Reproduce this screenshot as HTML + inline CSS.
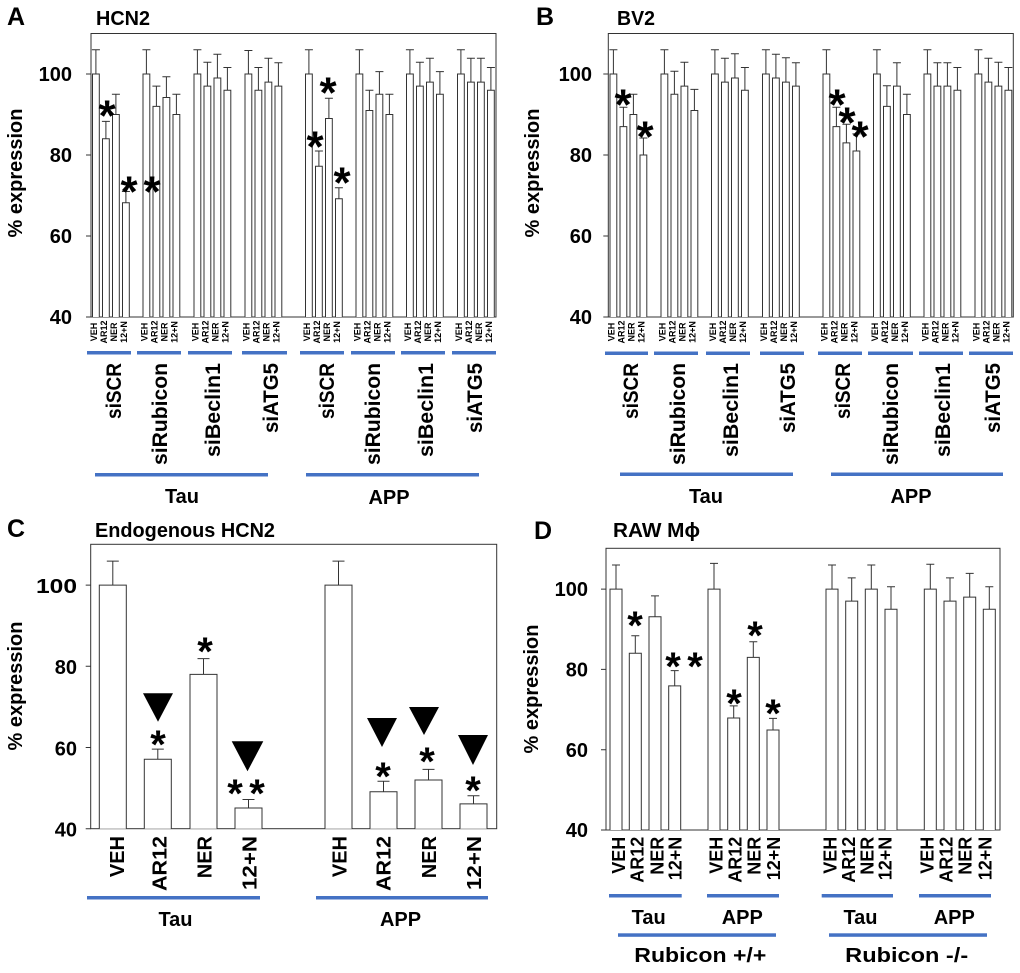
<!DOCTYPE html>
<html><head><meta charset="utf-8"><style>
html,body{margin:0;padding:0;background:#fff;}
svg{display:block;}
.t{font-family:"Liberation Sans",Arial,sans-serif;font-weight:bold;fill:#000;}
.b{fill:#fff;stroke:#333;stroke-width:1;}
.e{fill:none;stroke:#333;stroke-width:1;}
.bx{fill:none;stroke:#333;stroke-width:1;}
.bl{fill:#4472c4;}
.sl{font-family:"Liberation Sans",Arial,sans-serif;font-weight:bold;font-size:9px;text-anchor:middle;}
.st{font-family:"Liberation Sans",Arial,sans-serif;font-weight:bold;font-size:44px;text-anchor:middle;}
.st2{font-family:"Liberation Sans",Arial,sans-serif;font-weight:bold;font-size:40px;text-anchor:middle;}
.tk{font-family:"Liberation Sans",Arial,sans-serif;font-weight:bold;font-size:20px;text-anchor:end;}
.yl{font-family:"Liberation Sans",Arial,sans-serif;font-weight:bold;font-size:20px;text-anchor:middle;}
.big{font-family:"Liberation Sans",Arial,sans-serif;font-weight:bold;font-size:21px;text-anchor:end;}
.lab{font-family:"Liberation Sans",Arial,sans-serif;font-weight:bold;font-size:20px;text-anchor:middle;}
.cl{font-family:"Liberation Sans",Arial,sans-serif;font-weight:bold;font-size:20px;text-anchor:end;}
.dl{font-family:"Liberation Sans",Arial,sans-serif;font-weight:bold;font-size:18px;text-anchor:end;}
</style></head><body>
<svg width="1020" height="973" viewBox="0 0 1020 973" xmlns="http://www.w3.org/2000/svg">
<rect x="0" y="0" width="1020" height="973" fill="#fff"/>

<!-- ================= PANEL A ================= -->
<text class="t" x="7" y="25" font-size="25">A</text>
<text class="t" x="96" y="25" font-size="20" textLength="54" lengthAdjust="spacingAndGlyphs">HCN2</text>
<rect class="bx" x="91" y="33.5" width="405" height="283.5"/>
<path class="e" d="M86 74H91M86 155H91M86 236H91M86 317H91"/>
<text class="tk" x="72" y="81">100</text>
<text class="tk" x="72" y="162">80</text>
<text class="tk" x="72" y="243">60</text>
<text class="tk" x="72" y="324">40</text>
<text class="yl" transform="translate(22,173) rotate(-90)">% expression</text>

<g transform="translate(92.5,0)">
<path class="b" d="M0 317V74H6.8V317M10 317V138.8H16.8V317M20 317V114.5H26.8V317M30 317V202.8H36.8V317"/>
<path class="e" d="M3.4 74V49.7M-0.6 49.7H7.4M13.4 138.8V121.4M9.4 121.4H17.4M23.4 114.5V94.25M19.4 94.25H27.4M33.4 202.8V191.45M29.4 191.45H37.4"/>
<text class="sl" transform="translate(4.4,332) rotate(-90)">VEH</text><text class="sl" transform="translate(14.4,332) rotate(-90)">AR12</text><text class="sl" transform="translate(24.4,332) rotate(-90)">NER</text><text class="sl" transform="translate(34.4,332) rotate(-90)">12+N</text>
</g>
<g transform="translate(143,0)">
<path class="b" d="M0 317V74H6.8V317M10 317V106.4H16.8V317M20 317V97.5H26.8V317M30 317V114.5H36.8V317"/>
<path class="e" d="M3.4 74V49.7M-0.6 49.7H7.4M13.4 106.4V86.15M9.4 86.15H17.4M23.4 97.5V76.8M19.4 76.8H27.4M33.4 114.5V94.25M29.4 94.25H37.4"/>
<text class="sl" transform="translate(4.4,332) rotate(-90)">VEH</text><text class="sl" transform="translate(14.4,332) rotate(-90)">AR12</text><text class="sl" transform="translate(24.4,332) rotate(-90)">NER</text><text class="sl" transform="translate(34.4,332) rotate(-90)">12+N</text>
</g>
<g transform="translate(194,0)">
<path class="b" d="M0 317V74H6.8V317M10 317V86.15H16.8V317M20 317V78.05H26.8V317M30 317V90.2H36.8V317"/>
<path class="e" d="M3.4 74V49.7M-0.6 49.7H7.4M13.4 86.15V62.3M9.4 62.3H17.4M23.4 78.05V54.2M19.4 54.2H27.4M33.4 90.2V67.5M29.4 67.5H37.4"/>
<text class="sl" transform="translate(4.4,332) rotate(-90)">VEH</text><text class="sl" transform="translate(14.4,332) rotate(-90)">AR12</text><text class="sl" transform="translate(24.4,332) rotate(-90)">NER</text><text class="sl" transform="translate(34.4,332) rotate(-90)">12+N</text>
</g>
<g transform="translate(245,0)">
<path class="b" d="M0 317V74H6.8V317M10 317V90.2H16.8V317M20 317V82.1H26.8V317M30 317V86.15H36.8V317"/>
<path class="e" d="M3.4 74V50.5M-0.6 50.5H7.4M13.4 90.2V67.5M9.4 67.5H17.4M23.4 82.1V58.2M19.4 58.2H27.4M33.4 86.15V62.7M29.4 62.7H37.4"/>
<text class="sl" transform="translate(4.4,332) rotate(-90)">VEH</text><text class="sl" transform="translate(14.4,332) rotate(-90)">AR12</text><text class="sl" transform="translate(24.4,332) rotate(-90)">NER</text><text class="sl" transform="translate(34.4,332) rotate(-90)">12+N</text>
</g>
<g transform="translate(305.5,0)">
<path class="b" d="M0 317V74H6.8V317M10 317V166.3H16.8V317M20 317V118.55H26.8V317M30 317V198.7H36.8V317"/>
<path class="e" d="M3.4 74V49.7M-0.6 49.7H7.4M13.4 166.3V150.95M9.4 150.95H17.4M23.4 118.55V98.3M19.4 98.3H27.4M33.4 198.7V187.8M29.4 187.8H37.4"/>
<text class="sl" transform="translate(4.4,332) rotate(-90)">VEH</text><text class="sl" transform="translate(14.4,332) rotate(-90)">AR12</text><text class="sl" transform="translate(24.4,332) rotate(-90)">NER</text><text class="sl" transform="translate(34.4,332) rotate(-90)">12+N</text>
</g>
<g transform="translate(356,0)">
<path class="b" d="M0 317V74H6.8V317M10 317V110.45H16.8V317M20 317V94.25H26.8V317M30 317V114.5H36.8V317"/>
<path class="e" d="M3.4 74V49.7M-0.6 49.7H7.4M13.4 110.45V90.2M9.4 90.2H17.4M23.4 94.25V71.6M19.4 71.6H27.4M33.4 114.5V94.25M29.4 94.25H37.4"/>
<text class="sl" transform="translate(4.4,332) rotate(-90)">VEH</text><text class="sl" transform="translate(14.4,332) rotate(-90)">AR12</text><text class="sl" transform="translate(24.4,332) rotate(-90)">NER</text><text class="sl" transform="translate(34.4,332) rotate(-90)">12+N</text>
</g>
<g transform="translate(406.5,0)">
<path class="b" d="M0 317V74H6.8V317M10 317V86.15H16.8V317M20 317V82.1H26.8V317M30 317V94.25H36.8V317"/>
<path class="e" d="M3.4 74V49.7M-0.6 49.7H7.4M13.4 86.15V62.3M9.4 62.3H17.4M23.4 82.1V58.2M19.4 58.2H27.4M33.4 94.25V71.6M29.4 71.6H37.4"/>
<text class="sl" transform="translate(4.4,332) rotate(-90)">VEH</text><text class="sl" transform="translate(14.4,332) rotate(-90)">AR12</text><text class="sl" transform="translate(24.4,332) rotate(-90)">NER</text><text class="sl" transform="translate(34.4,332) rotate(-90)">12+N</text>
</g>
<g transform="translate(457.5,0)">
<path class="b" d="M0 317V74H6.8V317M10 317V82.1H16.8V317M20 317V82.1H26.8V317M30 317V90.2H36.8V317"/>
<path class="e" d="M3.4 74V49.7M-0.6 49.7H7.4M13.4 82.1V58.2M9.4 58.2H17.4M23.4 82.1V58.2M19.4 58.2H27.4M33.4 90.2V67.5M29.4 67.5H37.4"/>
<text class="sl" transform="translate(4.4,332) rotate(-90)">VEH</text><text class="sl" transform="translate(14.4,332) rotate(-90)">AR12</text><text class="sl" transform="translate(24.4,332) rotate(-90)">NER</text><text class="sl" transform="translate(34.4,332) rotate(-90)">12+N</text>
</g>
<!-- stars A -->
<text class="st" x="107" y="130.4">*</text>
<text class="st" x="129" y="206.4">*</text>
<text class="st" x="152" y="206.4">*</text>
<text class="st" x="315" y="161.4">*</text>
<text class="st" x="328" y="107.4">*</text>
<text class="st" x="342" y="197.4">*</text>
<!-- blue lines A -->
<rect class="bl" x="87" y="351" width="44" height="3.5"/>
<rect class="bl" x="137" y="351" width="44" height="3.5"/>
<rect class="bl" x="188" y="351" width="44" height="3.5"/>
<rect class="bl" x="242" y="351" width="45" height="3.5"/>
<rect class="bl" x="300" y="351" width="44" height="3.5"/>
<rect class="bl" x="351" y="351" width="44" height="3.5"/>
<rect class="bl" x="401" y="351" width="44" height="3.5"/>
<rect class="bl" x="452" y="351" width="44" height="3.5"/>
<text class="big" transform="translate(121,363) rotate(-90)" textLength="56" lengthAdjust="spacingAndGlyphs">siSCR</text>
<text class="big" transform="translate(167,363) rotate(-90)" textLength="102" lengthAdjust="spacingAndGlyphs">siRubicon</text>
<text class="big" transform="translate(220,363) rotate(-90)" textLength="94" lengthAdjust="spacingAndGlyphs">siBeclin1</text>
<text class="big" transform="translate(278,363) rotate(-90)" textLength="70" lengthAdjust="spacingAndGlyphs">siATG5</text>
<text class="big" transform="translate(334,363) rotate(-90)" textLength="56" lengthAdjust="spacingAndGlyphs">siSCR</text>
<text class="big" transform="translate(380,363) rotate(-90)" textLength="102" lengthAdjust="spacingAndGlyphs">siRubicon</text>
<text class="big" transform="translate(433,363) rotate(-90)" textLength="94" lengthAdjust="spacingAndGlyphs">siBeclin1</text>
<text class="big" transform="translate(482,363) rotate(-90)" textLength="70" lengthAdjust="spacingAndGlyphs">siATG5</text>
<rect class="bl" x="95" y="473" width="173" height="3.5"/>
<rect class="bl" x="306" y="473" width="173" height="3.5"/>
<text class="lab" x="182" y="503">Tau</text>
<text class="lab" x="389" y="504">APP</text>

<!-- ================= PANEL B ================= -->
<text class="t" x="536" y="25" font-size="25">B</text>
<text class="t" x="617" y="25" font-size="20" textLength="38" lengthAdjust="spacingAndGlyphs">BV2</text>
<rect class="bx" x="608.3" y="33.5" width="405" height="283.5"/>
<path class="e" d="M603.3 74H608.3M603.3 155H608.3M603.3 236H608.3M603.3 317H608.3"/>
<text class="tk" x="592" y="81">100</text>
<text class="tk" x="592" y="162">80</text>
<text class="tk" x="592" y="243">60</text>
<text class="tk" x="592" y="324">40</text>
<text class="yl" transform="translate(539,173) rotate(-90)">% expression</text>

<g transform="translate(610,0)">
<path class="b" d="M0 317V74H6.8V317M10 317V126.65H16.8V317M20 317V114.5H26.8V317M30 317V155H36.8V317"/>
<path class="e" d="M3.4 74V49.7M-0.6 49.7H7.4M13.4 126.65V107.2M9.4 107.2H17.4M23.4 114.5V94.25M19.4 94.25H27.4M33.4 155V138M29.4 138H37.4"/>
<text class="sl" transform="translate(4.4,332) rotate(-90)">VEH</text><text class="sl" transform="translate(14.4,332) rotate(-90)">AR12</text><text class="sl" transform="translate(24.4,332) rotate(-90)">NER</text><text class="sl" transform="translate(34.4,332) rotate(-90)">12+N</text>
</g>
<g transform="translate(661,0)">
<path class="b" d="M0 317V74H6.8V317M10 317V94.25H16.8V317M20 317V86.15H26.8V317M30 317V110.45H36.8V317"/>
<path class="e" d="M3.4 74V49.7M-0.6 49.7H7.4M13.4 94.25V71.2M9.4 71.2H17.4M23.4 86.15V62.3M19.4 62.3H27.4M33.4 110.45V89.4M29.4 89.4H37.4"/>
<text class="sl" transform="translate(4.4,332) rotate(-90)">VEH</text><text class="sl" transform="translate(14.4,332) rotate(-90)">AR12</text><text class="sl" transform="translate(24.4,332) rotate(-90)">NER</text><text class="sl" transform="translate(34.4,332) rotate(-90)">12+N</text>
</g>
<g transform="translate(711.5,0)">
<path class="b" d="M0 317V74H6.8V317M10 317V82.1H16.8V317M20 317V78.05H26.8V317M30 317V90.2H36.8V317"/>
<path class="e" d="M3.4 74V49.7M-0.6 49.7H7.4M13.4 82.1V58.2M9.4 58.2H17.4M23.4 78.05V53.75M19.4 53.75H27.4M33.4 90.2V67.5M29.4 67.5H37.4"/>
<text class="sl" transform="translate(4.4,332) rotate(-90)">VEH</text><text class="sl" transform="translate(14.4,332) rotate(-90)">AR12</text><text class="sl" transform="translate(24.4,332) rotate(-90)">NER</text><text class="sl" transform="translate(34.4,332) rotate(-90)">12+N</text>
</g>
<g transform="translate(762.5,0)">
<path class="b" d="M0 317V74H6.8V317M10 317V78.05H16.8V317M20 317V82.1H26.8V317M30 317V86.15H36.8V317"/>
<path class="e" d="M3.4 74V49.7M-0.6 49.7H7.4M13.4 78.05V54.2M9.4 54.2H17.4M23.4 82.1V57.8M19.4 57.8H27.4M33.4 86.15V62.7M29.4 62.7H37.4"/>
<text class="sl" transform="translate(4.4,332) rotate(-90)">VEH</text><text class="sl" transform="translate(14.4,332) rotate(-90)">AR12</text><text class="sl" transform="translate(24.4,332) rotate(-90)">NER</text><text class="sl" transform="translate(34.4,332) rotate(-90)">12+N</text>
</g>
<g transform="translate(823,0)">
<path class="b" d="M0 317V74H6.8V317M10 317V126.65H16.8V317M20 317V142.85H26.8V317M30 317V150.95H36.8V317"/>
<path class="e" d="M3.4 74V49.7M-0.6 49.7H7.4M13.4 126.65V107.2M9.4 107.2H17.4M23.4 142.85V124.2M19.4 124.2H27.4M33.4 150.95V133.9M29.4 133.9H37.4"/>
<text class="sl" transform="translate(4.4,332) rotate(-90)">VEH</text><text class="sl" transform="translate(14.4,332) rotate(-90)">AR12</text><text class="sl" transform="translate(24.4,332) rotate(-90)">NER</text><text class="sl" transform="translate(34.4,332) rotate(-90)">12+N</text>
</g>
<g transform="translate(873.5,0)">
<path class="b" d="M0 317V74H6.8V317M10 317V106.4H16.8V317M20 317V86.15H26.8V317M30 317V114.5H36.8V317"/>
<path class="e" d="M3.4 74V49.7M-0.6 49.7H7.4M13.4 106.4V85.7M9.4 85.7H17.4M23.4 86.15V62.7M19.4 62.7H27.4M33.4 114.5V94.25M29.4 94.25H37.4"/>
<text class="sl" transform="translate(4.4,332) rotate(-90)">VEH</text><text class="sl" transform="translate(14.4,332) rotate(-90)">AR12</text><text class="sl" transform="translate(24.4,332) rotate(-90)">NER</text><text class="sl" transform="translate(34.4,332) rotate(-90)">12+N</text>
</g>
<g transform="translate(924,0)">
<path class="b" d="M0 317V74H6.8V317M10 317V86.15H16.8V317M20 317V86.15H26.8V317M30 317V90.2H36.8V317"/>
<path class="e" d="M3.4 74V49.7M-0.6 49.7H7.4M13.4 86.15V62.7M9.4 62.7H17.4M23.4 86.15V62.7M19.4 62.7H27.4M33.4 90.2V67.5M29.4 67.5H37.4"/>
<text class="sl" transform="translate(4.4,332) rotate(-90)">VEH</text><text class="sl" transform="translate(14.4,332) rotate(-90)">AR12</text><text class="sl" transform="translate(24.4,332) rotate(-90)">NER</text><text class="sl" transform="translate(34.4,332) rotate(-90)">12+N</text>
</g>
<g transform="translate(975,0)">
<path class="b" d="M0 317V74H6.8V317M10 317V82.1H16.8V317M20 317V86.15H26.8V317M30 317V90.2H36.8V317"/>
<path class="e" d="M3.4 74V49.7M-0.6 49.7H7.4M13.4 82.1V58.2M9.4 58.2H17.4M23.4 86.15V62.3M19.4 62.3H27.4M33.4 90.2V67.5M29.4 67.5H37.4"/>
<text class="sl" transform="translate(4.4,332) rotate(-90)">VEH</text><text class="sl" transform="translate(14.4,332) rotate(-90)">AR12</text><text class="sl" transform="translate(24.4,332) rotate(-90)">NER</text><text class="sl" transform="translate(34.4,332) rotate(-90)">12+N</text>
</g>
<!-- stars B -->
<text class="st" x="623" y="119.4">*</text>
<text class="st" x="645" y="151.4">*</text>
<text class="st" x="837" y="119.4">*</text>
<text class="st" x="847" y="137.4">*</text>
<text class="st" x="860" y="151.4">*</text>
<!-- blue lines B -->
<rect class="bl" x="605" y="351.5" width="43" height="3.5"/>
<rect class="bl" x="654" y="351.5" width="44" height="3.5"/>
<rect class="bl" x="706" y="351.5" width="44" height="3.5"/>
<rect class="bl" x="760" y="351.5" width="44" height="3.5"/>
<rect class="bl" x="818" y="351.5" width="44" height="3.5"/>
<rect class="bl" x="868" y="351.5" width="45" height="3.5"/>
<rect class="bl" x="919" y="351.5" width="44" height="3.5"/>
<rect class="bl" x="969" y="351.5" width="44" height="3.5"/>
<text class="big" transform="translate(638,363) rotate(-90)" textLength="56" lengthAdjust="spacingAndGlyphs">siSCR</text>
<text class="big" transform="translate(685,363) rotate(-90)" textLength="102" lengthAdjust="spacingAndGlyphs">siRubicon</text>
<text class="big" transform="translate(738,363) rotate(-90)" textLength="94" lengthAdjust="spacingAndGlyphs">siBeclin1</text>
<text class="big" transform="translate(795,363) rotate(-90)" textLength="70" lengthAdjust="spacingAndGlyphs">siATG5</text>
<text class="big" transform="translate(850,363) rotate(-90)" textLength="56" lengthAdjust="spacingAndGlyphs">siSCR</text>
<text class="big" transform="translate(898,363) rotate(-90)" textLength="102" lengthAdjust="spacingAndGlyphs">siRubicon</text>
<text class="big" transform="translate(950,363) rotate(-90)" textLength="94" lengthAdjust="spacingAndGlyphs">siBeclin1</text>
<text class="big" transform="translate(1000,363) rotate(-90)" textLength="70" lengthAdjust="spacingAndGlyphs">siATG5</text>
<rect class="bl" x="620" y="472.5" width="173" height="3.5"/>
<rect class="bl" x="831" y="472.5" width="172" height="3.5"/>
<text class="lab" x="706" y="503">Tau</text>
<text class="lab" x="911" y="503">APP</text>

<!-- ================= PANEL C ================= -->
<text class="t" x="7" y="537" font-size="25">C</text>
<text class="t" x="95" y="537" font-size="20" textLength="180" lengthAdjust="spacingAndGlyphs">Endogenous HCN2</text>
<rect class="bx" x="90.7" y="544.3" width="406" height="284.4"/>
<path class="e" d="M85.7 585.1H90.7M85.7 666.3H90.7M85.7 747.5H90.7M85.7 828.7H90.7"/>
<text class="tk" x="77" y="593" font-size="22" textLength="41" lengthAdjust="spacingAndGlyphs">100</text>
<text class="tk" x="77" y="674" font-size="22">80</text>
<text class="tk" x="77" y="755.5" font-size="22">60</text>
<text class="tk" x="77" y="836.5" font-size="22">40</text>
<text class="yl" transform="translate(22,686) rotate(-90)">% expression</text>

<path class="b" d="M99.3 828.7V585.1H126.3V828.7M144.3 828.7V759.3H171.3V828.7M190 828.7V674.4H217V828.7M235 828.7V808H262V828.7M325 828.7V585.1H352V828.7M370 828.7V791.8H397V828.7M415 828.7V780H442V828.7M460 828.7V803.9H487V828.7"/>
<path class="e" d="M112.8 585.1V561.15M106.8 561.15H118.8M157.8 759.3V749.1M151.8 749.1H163.8M203.5 674.4V658.6M197.5 658.6H209.5M248.5 808V799.5M242.5 799.5H254.5M338.5 585.1V561.15M332.5 561.15H344.5M383.5 791.8V781.2M377.5 781.2H389.5M428.5 780V769.4M422.5 769.4H434.5M473.5 803.9V795.8M467.5 795.8H479.5"/>
<!-- triangles C -->
<polygon points="143,693.3 173,693.3 158,721.7" fill="#000"/>
<polygon points="231.7,741.3 263.3,741.3 247.5,771.3" fill="#000"/>
<polygon points="367,718 397,718 382,747" fill="#000"/>
<polygon points="409,707 439,707 424,735" fill="#000"/>
<polygon points="458,735 488,735 473,765" fill="#000"/>
<!-- stars C -->
<text class="st2" x="158" y="758">*</text>
<text class="st2" x="205" y="665">*</text>
<text class="st2" x="235" y="807">*</text>
<text class="st2" x="257" y="807">*</text>
<text class="st2" x="383" y="790">*</text>
<text class="st2" x="427" y="775">*</text>
<text class="st2" x="473" y="804">*</text>
<!-- labels C -->
<text class="cl" transform="translate(124,836) rotate(-90)">VEH</text>
<text class="cl" transform="translate(166.7,836) rotate(-90)" textLength="55" lengthAdjust="spacingAndGlyphs">AR12</text>
<text class="cl" transform="translate(211.7,836) rotate(-90)">NER</text>
<text class="cl" transform="translate(256.7,836) rotate(-90)" textLength="54" lengthAdjust="spacingAndGlyphs">12+N</text>
<text class="cl" transform="translate(346.7,836) rotate(-90)">VEH</text>
<text class="cl" transform="translate(390.7,836) rotate(-90)" textLength="55" lengthAdjust="spacingAndGlyphs">AR12</text>
<text class="cl" transform="translate(436,836) rotate(-90)">NER</text>
<text class="cl" transform="translate(481,836) rotate(-90)" textLength="54" lengthAdjust="spacingAndGlyphs">12+N</text>
<rect class="bl" x="87" y="896" width="173" height="3.5"/>
<rect class="bl" x="316" y="896" width="172" height="3.5"/>
<text class="lab" x="175.5" y="926">Tau</text>
<text class="lab" x="400.5" y="926">APP</text>

<!-- ================= PANEL D ================= -->
<text class="t" x="534" y="539" font-size="25">D</text>
<text class="t" x="613" y="537" font-size="20" textLength="87" lengthAdjust="spacingAndGlyphs">RAW Mϕ</text>
<rect class="bx" x="606" y="548.3" width="394" height="281.7"/>
<path class="e" d="M601 589.1H606M601 669.4H606M601 749.7H606M601 830H606"/>
<text class="tk" x="588" y="596">100</text>
<text class="tk" x="588" y="676.5">80</text>
<text class="tk" x="588" y="757">60</text>
<text class="tk" x="588" y="837">40</text>
<text class="yl" transform="translate(538,689) rotate(-90)">% expression</text>

<path class="b" d="M610 830V589.1H622V830M629.3 830V653.3H641.3V830M649 830V616.8H661V830M668.7 830V685.9H680.7V830M708 830V589.1H720V830M727.7 830V718H739.7V830M747.3 830V657.4H759.3V830M767 830V730H779V830M826 830V589.1H838V830M845.7 830V601.1H857.7V830M865.3 830V589.1H877.3V830M885 830V609.2H897V830M924.3 830V589.1H936.3V830M944 830V601.1H956V830M963.7 830V597.1H975.7V830M983.3 830V609.2H995.3V830"/>
<path class="e" d="M616 589.1V565M612 565H620M635.3 653.3V635.7M631.3 635.7H639.3M655 616.8V595.9M651 595.9H659M674.7 685.9V670.6M670.7 670.6H678.7M714 589.1V563.4M710 563.4H718M733.7 718V705.9M729.7 705.9H737.7M753.3 657.4V641.7M749.3 641.7H757.3M773 730V718.4M769 718.4H777M832 589.1V565M828 565H836M851.7 601.1V577.9M847.7 577.9H855.7M871.3 589.1V565M867.3 565H875.3M891 609.2V586.7M887 586.7H895M930.3 589.1V564.2M926.3 564.2H934.3M950 601.1V577.9M946 577.9H954M969.7 597.1V573.4M965.7 573.4H973.7M989.3 609.2V586.7M985.3 586.7H993.3"/>
<!-- stars D -->
<text class="st2" x="635" y="639">*</text>
<text class="st2" x="673" y="680">*</text>
<text class="st2" x="695" y="680">*</text>
<text class="st2" x="734" y="717">*</text>
<text class="st2" x="755" y="649">*</text>
<text class="st2" x="773" y="727">*</text>
<!-- labels D -->
<text class="dl" transform="translate(625,836.7) rotate(-90)">VEH</text>
<text class="dl" transform="translate(643.3,836.7) rotate(-90)">AR12</text>
<text class="dl" transform="translate(663.3,836.7) rotate(-90)">NER</text>
<text class="dl" transform="translate(681.7,836.7) rotate(-90)">12+N</text>
<text class="dl" transform="translate(722.3,836.7) rotate(-90)">VEH</text>
<text class="dl" transform="translate(741.7,836.7) rotate(-90)">AR12</text>
<text class="dl" transform="translate(760.7,836.7) rotate(-90)">NER</text>
<text class="dl" transform="translate(780,836.7) rotate(-90)">12+N</text>
<text class="dl" transform="translate(836.7,836.7) rotate(-90)">VEH</text>
<text class="dl" transform="translate(855,836.7) rotate(-90)">AR12</text>
<text class="dl" transform="translate(873.3,836.7) rotate(-90)">NER</text>
<text class="dl" transform="translate(891.7,836.7) rotate(-90)">12+N</text>
<text class="dl" transform="translate(933.3,836.7) rotate(-90)">VEH</text>
<text class="dl" transform="translate(952.7,836.7) rotate(-90)">AR12</text>
<text class="dl" transform="translate(971.7,836.7) rotate(-90)">NER</text>
<text class="dl" transform="translate(991.7,836.7) rotate(-90)">12+N</text>
<rect class="bl" x="609" y="894" width="72.7" height="3.5"/>
<rect class="bl" x="707" y="894" width="72" height="3.5"/>
<rect class="bl" x="821.7" y="894" width="71.3" height="3.5"/>
<rect class="bl" x="919" y="894" width="72" height="3.5"/>
<text class="lab" x="648.7" y="924">Tau</text>
<text class="lab" x="742.3" y="924">APP</text>
<text class="lab" x="860.5" y="924">Tau</text>
<text class="lab" x="954.3" y="924">APP</text>
<rect class="bl" x="618" y="933.3" width="158" height="3.5"/>
<rect class="bl" x="829" y="933.3" width="158" height="3.5"/>
<text class="lab" x="700.3" y="962" font-size="21" textLength="132" lengthAdjust="spacingAndGlyphs">Rubicon +/+</text>
<text class="lab" x="906.7" y="962" font-size="21" textLength="123" lengthAdjust="spacingAndGlyphs">Rubicon -/-</text>
</svg>
</body></html>
